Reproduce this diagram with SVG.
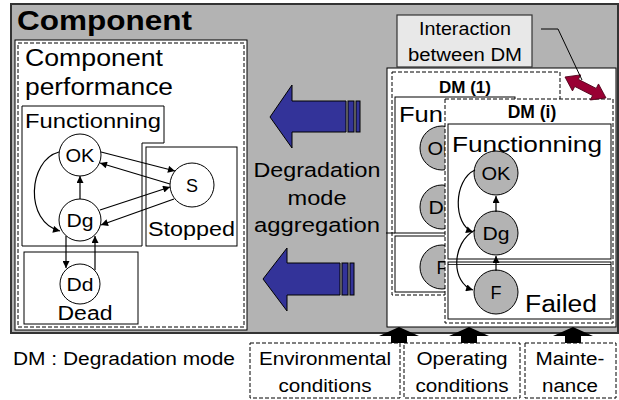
<svg xmlns="http://www.w3.org/2000/svg" width="619" height="400" viewBox="0 0 619 400">
<defs>
<marker id="ah" viewBox="0 0 10 10" refX="10" refY="5" markerWidth="9" markerHeight="7" orient="auto" markerUnits="userSpaceOnUse"><path d="M0,0 L10,5 L0,10 z" fill="#000"/></marker>
<style>
text{font-family:"Liberation Sans",Arial,Helvetica,sans-serif;fill:#000}
.box{fill:#fff;stroke:#000;stroke-width:1}
.nb{fill:none;stroke:#000;stroke-width:1}
.dash{fill:none;stroke:#000;stroke-width:1;stroke-dasharray:4,2}
.dashw{fill:#fff;stroke:#000;stroke-width:1;stroke-dasharray:4,2}
.st{fill:#fff;stroke:#000;stroke-width:1}
.stg{fill:#b3b3b3;stroke:#000;stroke-width:1}
.lbl{font-size:18px;text-anchor:middle}
.ln{fill:none;stroke:#000;stroke-width:1.2;marker-end:url(#ah)}
.blue{fill:#333399;stroke:#000;stroke-width:1}
.big{fill:#000;stroke:none}
</style>
</defs>

<g id="component">
<rect x="11" y="4" width="607" height="329" fill="#b3b3b3" stroke="#333" stroke-width="2"/>
<text x="17" y="30" font-size="28" font-weight="bold" textLength="175" lengthAdjust="spacingAndGlyphs">Component</text>
</g>

<g id="component-performance">
<rect x="15" y="40" width="232" height="290" class="box"/>
<rect x="18" y="43" width="226" height="284" class="dash"/>
<text x="25" y="66" font-size="23" textLength="138" lengthAdjust="spacingAndGlyphs">Component</text>
<text x="25" y="95" font-size="23" textLength="148" lengthAdjust="spacingAndGlyphs">performance</text>
</g>

<g id="functionning">
<path d="M22,106 H164 V143 H142 V246 H22 Z" class="nb"/>
<text x="25" y="128" font-size="21" textLength="136" lengthAdjust="spacingAndGlyphs">Functionning</text>
</g>
<g id="stopped">
<rect x="146" y="147" width="91" height="99" class="nb"/>
<text x="148" y="236" font-size="20" textLength="87" lengthAdjust="spacingAndGlyphs">Stopped</text>
</g>
<g id="dead">
<rect x="24" y="252" width="114" height="72" class="nb"/>
<text x="85" y="320" font-size="20" text-anchor="middle" textLength="55" lengthAdjust="spacingAndGlyphs">Dead</text>
</g>

<g id="ok"><circle cx="80" cy="155" r="21" class="st"/><text x="80" y="162" class="lbl" textLength="29" lengthAdjust="spacingAndGlyphs">OK</text></g>
<g id="dg"><circle cx="80" cy="220" r="21" class="st"/><text x="80" y="227" class="lbl" textLength="27" lengthAdjust="spacingAndGlyphs">Dg</text></g>
<g id="dd"><circle cx="80" cy="284" r="20" class="st"/><text x="80" y="291" class="lbl" textLength="27" lengthAdjust="spacingAndGlyphs">Dd</text></g>
<g id="s"><circle cx="192" cy="185" r="22" class="st"/><text x="192" y="192" class="lbl">S</text></g>

<g id="connectors">
<path d="M101,152 L175,171" class="ln"/>
<path d="M170,184 L100,163" class="ln"/>
<path d="M100,210 L170,187" class="ln"/>
<path d="M174,199 L101,225" class="ln"/>
<path d="M80,199 L80,176" class="ln"/>
<path d="M66,236 L66,268" class="ln"/>
<path d="M95,270 L95,236" class="ln"/>
<path d="M59,152 C28,160 24,222 60,231" class="ln"/>
<path d="M421,146 C400,155 400,198 419,205" class="ln"/>
<path d="M421,210 C398,220 398,258 419,265" class="ln"/>
<path d="M441,186 L441,171" class="ln"/>
<path d="M441,246 L441,230" class="ln"/>
</g>

<g id="aggregation">
<path d="M270,117 L292,85 L292,101 L346,101 L346,132 L292,132 L292,148 Z" class="blue"/>
<rect x="348" y="101" width="6" height="31" class="blue"/>
<rect x="356" y="101" width="4" height="31" class="blue"/>
<path d="M263,279 L287,248 L287,263 L340,263 L340,295 L287,295 L287,311 Z" class="blue"/>
<rect x="342" y="263" width="6" height="32" class="blue"/>
<rect x="350" y="263" width="4" height="32" class="blue"/>
<text x="317" y="177" font-size="20.5" text-anchor="middle" textLength="127" lengthAdjust="spacingAndGlyphs">Degradation</text>
<text x="317" y="205" font-size="20.5" text-anchor="middle" textLength="59" lengthAdjust="spacingAndGlyphs">mode</text>
<text x="317" y="232" font-size="20.5" text-anchor="middle" textLength="126" lengthAdjust="spacingAndGlyphs">aggregation</text>
</g>

<g id="dm-container">
<rect x="387" y="68" width="229" height="259" class="box"/>
</g>

<g id="dm1">
<rect x="392" y="72" width="168" height="223" class="dash"/>
<text x="465" y="93" font-size="17" font-weight="bold" text-anchor="middle">DM (1)</text>
<rect x="395" y="97" width="120" height="136" class="nb"/>
<rect x="395" y="236" width="120" height="56" class="nb"/>
<line x1="386" y1="233" x2="395" y2="233" stroke="#000"/>
<text x="399" y="122" font-size="22.5" textLength="44" lengthAdjust="spacingAndGlyphs">Fun</text>
<circle cx="442" cy="148" r="22" class="stg"/><text x="442" y="155" class="lbl" textLength="29" lengthAdjust="spacingAndGlyphs">OK</text>
<circle cx="442" cy="207" r="22" class="stg"/><text x="442" y="214" class="lbl" textLength="27" lengthAdjust="spacingAndGlyphs">Dg</text>
<circle cx="442" cy="267" r="22" class="stg"/><text x="442" y="274" class="lbl">F</text>
</g>

<g id="dmi">
<rect x="445" y="99" width="168" height="224" class="dashw"/>
<text x="532" y="118" font-size="17.5" font-weight="bold" text-anchor="middle">DM (i)</text>
<rect x="448" y="124" width="163" height="135" class="nb"/>
<rect x="448" y="262" width="163" height="57" class="nb"/>
<line x1="448" y1="264.5" x2="611" y2="264.5" stroke="#000" stroke-width="0.8"/>
<text x="452" y="152" font-size="22.5" textLength="150" lengthAdjust="spacingAndGlyphs">Functionning</text>
<text x="525" y="312" font-size="23" textLength="72" lengthAdjust="spacingAndGlyphs">Failed</text>
<circle cx="496" cy="173" r="22" class="stg"/><text x="496" y="180" class="lbl" textLength="29" lengthAdjust="spacingAndGlyphs">OK</text>
<circle cx="496" cy="233" r="22" class="stg"/><text x="496" y="240" class="lbl" textLength="27" lengthAdjust="spacingAndGlyphs">Dg</text>
<circle cx="496" cy="292" r="22" class="stg"/><text x="496" y="299" class="lbl">F</text>
<path d="M496,212 L496,196" class="ln"/>
<path d="M496,271 L496,256" class="ln"/>
<path d="M475,170 C453,180 453,225 473,232" class="ln"/>
<path d="M475,230 C451,243 451,283 473,290" class="ln"/>
</g>

<g id="interaction">
<rect x="397" y="15" width="135" height="52" fill="#e8e8e8" stroke="#333" stroke-width="1.2"/>
<text x="465" y="35" font-size="17.5" text-anchor="middle" textLength="92" lengthAdjust="spacingAndGlyphs">Interaction</text>
<text x="465" y="61" font-size="17.5" text-anchor="middle" textLength="114" lengthAdjust="spacingAndGlyphs">between DM</text>
<g transform="translate(565,77) rotate(27)"><path d="M0,0 L13,-9 L13,-4 L33,-4 L33,-9 L46,0 L33,9 L33,4 L13,4 L13,9 Z" fill="#990033" stroke="#4d0019" stroke-width="0.8"/></g>
<path d="M541,29 L558,29 L582,80" fill="none" stroke="#000" stroke-width="1"/>
</g>

<g id="influences">
<path d="M379,336 L399,327 L419,336 L407,336 L407,343 L391,343 L391,336 Z" class="big"/>
<path d="M449,336 L469,327 L489,336 L477,336 L477,343 L461,343 L461,336 Z" class="big"/>
<path d="M553,336 L573,327 L593,336 L581,336 L581,343 L565,343 L565,336 Z" class="big"/>
</g>

<g id="legend">
<text x="13" y="365" font-size="18" textLength="222" lengthAdjust="spacingAndGlyphs">DM : Degradation mode</text>
</g>
<g id="environmental">
<rect x="250" y="343" width="150" height="55" class="dash"/>
<text x="325" y="365" font-size="18" text-anchor="middle" textLength="132" lengthAdjust="spacingAndGlyphs">Environmental</text>
<text x="325" y="392" font-size="18" text-anchor="middle" textLength="93" lengthAdjust="spacingAndGlyphs">conditions</text>
</g>
<g id="operating">
<rect x="404" y="343" width="116" height="55" class="dash"/>
<text x="462" y="365" font-size="18" text-anchor="middle" textLength="91" lengthAdjust="spacingAndGlyphs">Operating</text>
<text x="462" y="392" font-size="18" text-anchor="middle" textLength="93" lengthAdjust="spacingAndGlyphs">conditions</text>
</g>
<g id="maintenance">
<rect x="525" y="343" width="91" height="55" class="dash"/>
<text x="570" y="365" font-size="18" text-anchor="middle" textLength="69" lengthAdjust="spacingAndGlyphs">Mainte-</text>
<text x="570" y="392" font-size="18" text-anchor="middle" textLength="56" lengthAdjust="spacingAndGlyphs">nance</text>
</g>
</svg>
